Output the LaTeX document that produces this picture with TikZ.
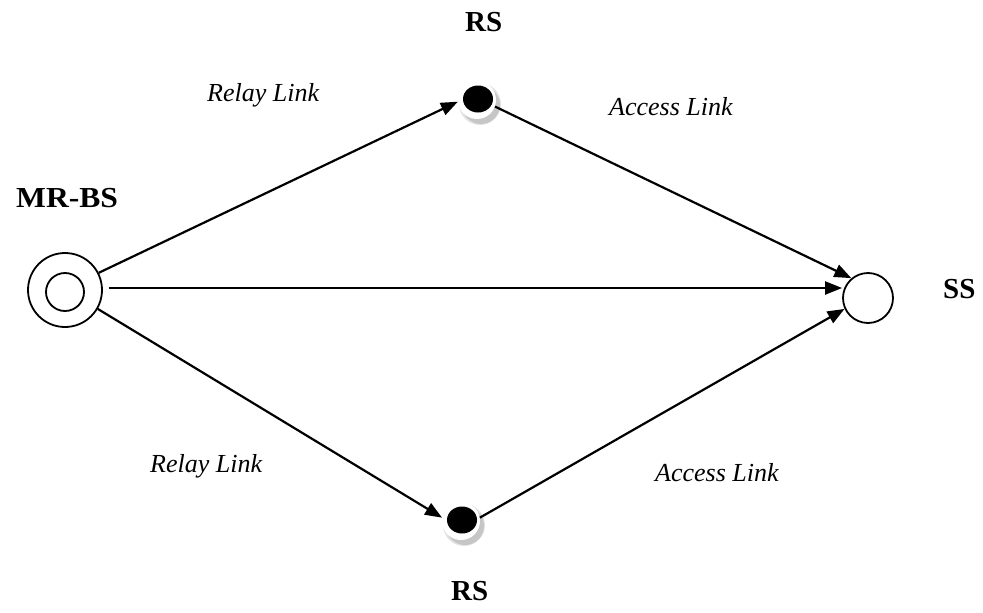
\documentclass[tikz,border=0pt]{standalone}
\usepackage{fontspec}
\setmainfont{Liberation Serif}
\usetikzlibrary{arrows.meta}
\begin{document}
\begin{tikzpicture}[x=1pt,y=-1pt,
  link/.style={line width=2.2pt,-{Triangle[length=17pt,width=13pt]}},
  ring/.style={circle,draw,line width=1.8pt,inner sep=0pt},
  title/.style={font=\fontsize{29}{31}\selectfont\bfseries,anchor=base west,inner sep=0pt},
  linklabel/.style={font=\fontsize{26}{28}\selectfont\itshape,anchor=base west,inner sep=0pt}]
\useasboundingbox (0,0) rectangle (983,613);
% base station: double ring
\node[ring,minimum size=74pt] (bs) at (65,290) {};
\node[ring,minimum size=38pt] (bsin) at (65,292) {};
% subscriber station
\node[ring,minimum size=50pt] (ss) at (868,298) {};
% relay stations: black dot on a white disc with a soft shadow
\foreach \n/\px/\py in {rsa/477/100, rsb/461/521}{
  \fill[gray!22] (\px+3,\py+4) circle (21pt);
  \fill[gray!45] (\px+4,\py+5) circle (19pt);
  \node[circle,fill=white,minimum size=38pt,inner sep=0pt] (\n) at (\px,\py) {};
  \fill[black] (\px+1,\py-1) ellipse (15pt and 13.5pt);
}
% links
\draw[link] (bs.27) -- (rsa.185);
\draw[link] (rsa.-20) -- (ss.130);
\draw[link] (bs.east) ++(6,-2) -- (ss.west |- 0,288);
\draw[link] (bs.-30) -- (rsb.170);
\draw[link] (rsb.10) -- (ss.205);
% labels
\node[title] (tRSa) at (465,31) {RS};
\node[title,xscale=1.09] (tBS) at (16,207) {MR-BS};
\node[title] (tSS) at (943,298) {SS};
\node[title] (tRSb) at (451,600) {RS};
\node[linklabel] (l1) at (207,101) {Relay Link};
\node[linklabel] (l2) at (609,115) {Access Link};
\node[linklabel] (l3) at (150,472) {Relay Link};
\node[linklabel] (l4) at (655,481) {Access Link};
\end{tikzpicture}
\end{document}
